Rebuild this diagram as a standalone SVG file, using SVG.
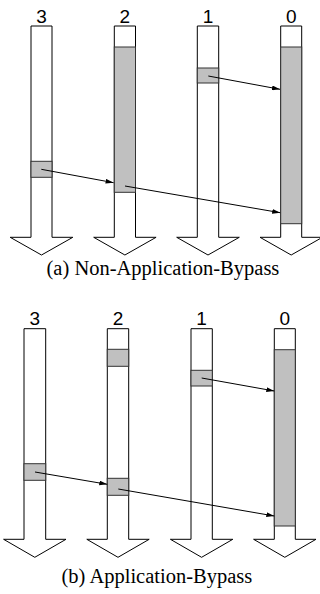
<svg xmlns="http://www.w3.org/2000/svg" width="320" height="594" viewBox="0 0 320 594">
  <defs>
    <marker id="head" viewBox="0 0 10 6" refX="10" refY="3" markerWidth="8" markerHeight="5" orient="auto" markerUnits="userSpaceOnUse">
      <path d="M0,0 L10,3 L0,6 z" fill="#000"/>
    </marker>
  </defs>
  <style>
    .col { fill: #fff; stroke: #000; stroke-width: 1; }
    .blk { fill: #c0c0c0; stroke: #333; stroke-width: 1; }
    .lbl { font-family: "Liberation Sans", Arial, sans-serif; font-size: 19px; text-anchor: middle; fill: #000; }
    .cap { font-family: "Liberation Serif", "Times New Roman", serif; font-size: 20.5px; fill: #000; }
    .link { stroke: #000; stroke-width: 1; fill: none; marker-end: url(#head); }
  </style>
  <rect width="320" height="594" fill="#fff"/>

  <!-- (a) Non-Application-Bypass -->
  <g id="a-col3">
    <path class="col" d="M31,26 H52 V237.3 H72.8 L41.5,255 L10.2,237.3 H31 Z"/>
    <rect class="blk" x="31" y="161.3" width="21" height="16"/>
    <text class="lbl" x="41.5" y="23.3">3</text>
  </g>
  <g id="a-col2">
    <path class="col" d="M114.3,26 H135.5 V237.3 H156.1 L124.9,255 L93.7,237.3 H114.3 Z"/>
    <rect class="blk" x="114.3" y="47" width="21.2" height="145.3"/>
    <text class="lbl" x="124.9" y="23.3">2</text>
  </g>
  <g id="a-col1">
    <path class="col" d="M197.3,26 H218.7 V237.3 H239.3 L208,255 L176.7,237.3 H197.3 Z"/>
    <rect class="blk" x="197.3" y="68" width="21.4" height="15"/>
    <text class="lbl" x="208" y="23.3">1</text>
  </g>
  <g id="a-col0">
    <path class="col" d="M280.7,26 H301.7 V237.3 H322.4 L291.2,255 L260,237.3 H280.7 Z"/>
    <rect class="blk" x="280.7" y="47" width="21" height="176.7"/>
    <text class="lbl" x="291.2" y="23.3">0</text>
  </g>
  <g id="a-links">
    <line class="link" x1="41.3" y1="169.3" x2="113.6" y2="182.7"/>
    <line class="link" x1="125" y1="186" x2="280.2" y2="212.7"/>
    <line class="link" x1="208.3" y1="76" x2="280" y2="89.3"/>
  </g>
  <text id="a-caption" class="cap" x="46.5" y="275">(a) Non-Application-Bypass</text>

  <!-- (b) Application-Bypass -->
  <g id="b-col3">
    <path class="col" d="M24,328.7 H45.7 V539.3 H66 L34.8,557.3 L3.6,539.3 H24 Z"/>
    <rect class="blk" x="24" y="463.7" width="21.7" height="16.6"/>
    <text class="lbl" x="34.8" y="325">3</text>
  </g>
  <g id="b-col2">
    <path class="col" d="M107.3,328.7 H128.7 V539.3 H149.2 L118,557.3 L86.8,539.3 H107.3 Z"/>
    <rect class="blk" x="107.3" y="349.3" width="21.4" height="17"/>
    <rect class="blk" x="107.3" y="478.3" width="21.4" height="17"/>
    <text class="lbl" x="118" y="325">2</text>
  </g>
  <g id="b-col1">
    <path class="col" d="M191,328.7 H212.3 V539.3 H232.8 L201.6,557.3 L170.4,539.3 H191 Z"/>
    <rect class="blk" x="191" y="370.3" width="21.3" height="15.7"/>
    <text class="lbl" x="201.6" y="325">1</text>
  </g>
  <g id="b-col0">
    <path class="col" d="M274.3,328.7 H295.3 V539.3 H316 L284.8,557.3 L253.6,539.3 H274.3 Z"/>
    <rect class="blk" x="274.3" y="349.7" width="21" height="176.3"/>
    <text class="lbl" x="284.8" y="325">0</text>
  </g>
  <g id="b-links">
    <line class="link" x1="35" y1="472" x2="107.3" y2="484.3"/>
    <line class="link" x1="118.3" y1="489" x2="274.3" y2="516"/>
    <line class="link" x1="201.7" y1="378" x2="274.3" y2="391"/>
  </g>
  <text id="b-caption" class="cap" x="61.5" y="583">(b) Application-Bypass</text>
</svg>
